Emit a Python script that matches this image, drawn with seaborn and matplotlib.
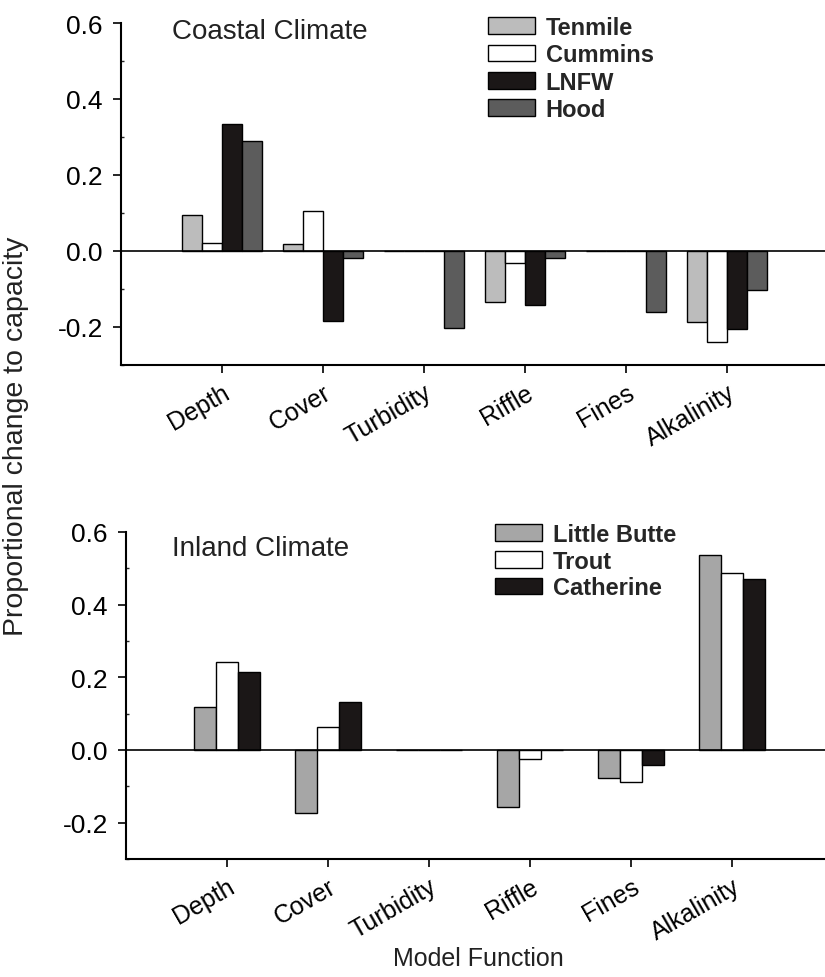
import pandas as pd
import numpy as np
import seaborn as sns
import matplotlib.pyplot as plt
from matplotlib.patches import Patch

# Data
functions = ["Depth", "Cover", "Turbidity", "Riffle", "Fines", "Alkalinity"]

coastal_sites = ["Tenmile", "Cummins", "LNFW", "Hood"]
tenmile = [0.095, 0.018, 0.0, -0.135, 0.0, -0.186]
cummins = [0.022, 0.105, 0.0, -0.032, 0.0, -0.239]
lnfw = [0.334, -0.184, 0.0, -0.142, 0.0, -0.205]
hood = [0.290, -0.018, -0.203, -0.018, -0.160, -0.103]

inland_sites = ["Little Butte", "Trout", "Catherine"]
little_butte = [0.119, -0.174, 0.0, -0.157, -0.077, 0.538]
trout = [0.243, 0.063, 0.0, -0.025, -0.088, 0.486]
catherine = [0.215, 0.132, 0.0, 0.0, -0.041, 0.472]

coastal_colors = ["#bcbcbc", "#ffffff", "#1b1717", "#5c5c5c"]
inland_colors = ["#a6a6a6", "#ffffff", "#1b1717"]

# long-form tables for seaborn
coastal = pd.DataFrame({
    "function": functions * 4,
    "site": np.repeat(coastal_sites, len(functions)),
    "value": tenmile + cummins + lnfw + hood,
})
inland = pd.DataFrame({
    "function": functions * 3,
    "site": np.repeat(inland_sites, len(functions)),
    "value": little_butte + trout + catherine,
})

sns.set_style("ticks")
plt.rcParams["font.family"] = ["Liberation Sans", "DejaVu Sans"]

fig = plt.figure(figsize=(8.25, 9.78), dpi=100)
W, H = 825, 978
ax1 = fig.add_axes([121 / W, (H - 366) / H, 707 / W, 342 / H])
ax2 = fig.add_axes([126 / W, (H - 860) / H, 707 / W, 327 / H])


def draw_panel(ax, df, sites, colors, width):
    sns.barplot(data=df, x="function", y="value", hue="site", order=functions,
                hue_order=sites, palette=colors, edgecolor="black", linewidth=1,
                width=width, saturation=1, ax=ax, legend=False)
    ax.axhline(0, color="black", lw=1.2, zorder=5)
    ax.set_xlim(-1, 6)
    ax.set_ylim(-0.3, 0.6)
    ax.set_yticks([-0.2, 0.0, 0.2, 0.4, 0.6])
    ax.set_yticklabels(["-0.2", "0.0", "0.2", "0.4", "0.6"])
    ax.set_yticks(np.arange(-0.3, 0.61, 0.1), minor=True)
    ax.tick_params(axis="y", which="minor", direction="in", length=2.5, width=1)
    ax.tick_params(axis="both", which="major", direction="out", length=6,
                   width=1.2, colors="black", pad=7)
    ax.tick_params(axis="y", which="major", labelsize=19)
    ax.tick_params(axis="x", which="major", labelsize=18, pad=5)
    ax.set_xticks(range(len(functions)))
    ax.set_xticklabels(functions, rotation=30, ha="right", rotation_mode="anchor")
    ax.set_xlabel("")
    ax.set_ylabel("")
    for s in ["top", "right"]:
        ax.spines[s].set_visible(False)
    for s in ["left", "bottom"]:
        ax.spines[s].set_linewidth(1.5)
        ax.spines[s].set_color("black")


draw_panel(ax1, coastal, coastal_sites, coastal_colors, 0.8)
draw_panel(ax2, inland, inland_sites, inland_colors, 0.66)

fig.text(172 / W, 1 - 19 / H, "Coastal Climate", fontsize=20, va="top",
         ha="left", color="#222222")
fig.text(172 / W, 1 - 536 / H, "Inland Climate", fontsize=20, va="top",
         ha="left", color="#222222")

handles1 = [Patch(facecolor=c, edgecolor="black", lw=1, label=s)
            for s, c in zip(coastal_sites, coastal_colors)]
fig.legend(handles=handles1, loc="upper left", bbox_to_anchor=(488 / W, 1 - 17 / H),
           frameon=False, prop={"weight": "bold", "size": 17}, handlelength=2.0,
           handleheight=0.7, handletextpad=0.45, labelspacing=0.18,
           borderpad=0, borderaxespad=0)

handles2 = [Patch(facecolor=c, edgecolor="black", lw=1, label=s)
            for s, c in zip(inland_sites, inland_colors)]
fig.legend(handles=handles2, loc="upper left", bbox_to_anchor=(495 / W, 1 - 524 / H),
           frameon=False, prop={"weight": "bold", "size": 17}, handlelength=2.0,
           handleheight=0.7, handletextpad=0.45, labelspacing=0.15,
           borderpad=0, borderaxespad=0)

fig.text(16 / W, 1 - 436 / H, "Proportional change to capacity", rotation=90,
         fontsize=20.5, va="center", ha="center", color="#222222")
fig.text(478 / W, 1 - 959 / H, "Model Function", fontsize=18,
         va="center", ha="center", color="#222222")

plt.savefig("out.png", dpi=100)
